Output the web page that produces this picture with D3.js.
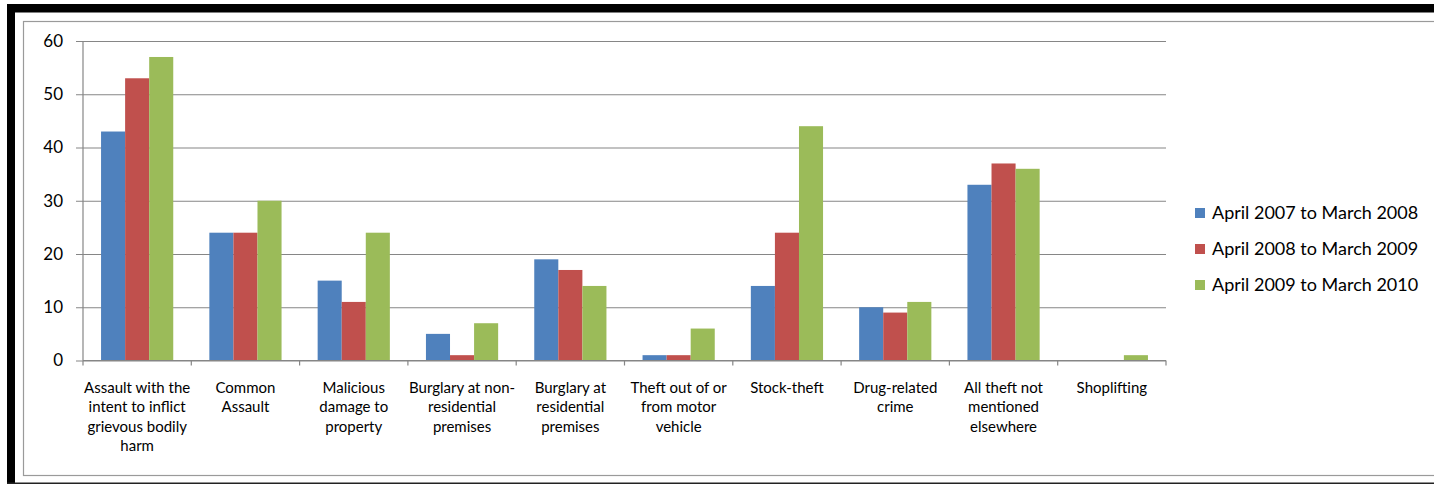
<!DOCTYPE html>
<html>
<head>
<meta charset="utf-8">
<script src="https://cdn.jsdelivr.net/npm/d3@7"></script>
<style>
  html, body { margin: 0; padding: 0; background: #fff; }
  svg { display: block; }
  text { font-family: Lato, "Liberation Sans", sans-serif; fill: #000; }
</style>
</head>
<body>
<svg id="chart" width="1434" height="485"></svg>
<script>
// Recorded crimes per category, three reporting years
const categories = [
  ["Assault with the", "intent to inflict", "grievous bodily", "harm"],
  ["Common", "Assault"],
  ["Malicious", "damage to", "property"],
  ["Burglary at non-", "residential", "premises"],
  ["Burglary at", "residential", "premises"],
  ["Theft out of or", "from motor", "vehicle"],
  ["Stock-theft"],
  ["Drug-related", "crime"],
  ["All theft not", "mentioned", "elsewhere"],
  ["Shoplifting"]
];
const seriesNames = [
  "April 2007 to March 2008",
  "April 2008 to March 2009",
  "April 2009 to March 2010"
];
const values2007 = [43, 24, 15, 5, 19, 1, 14, 10, 33, 0];
const values2008 = [53, 24, 11, 1, 17, 1, 24, 9, 37, 0];
const values2009 = [57, 30, 24, 7, 14, 6, 44, 11, 36, 1];
const yTicks = [0, 10, 20, 30, 40, 50, 60];
const colors = ["#4F81BD", "#C0504D", "#9BBB59"];

const allSeries = [values2007, values2008, values2009];
const svg = d3.select("#chart");

// Frame: heavy black border and thin grey inner border
svg.append("rect").attr("x", 0).attr("y", 0).attr("width", 1434).attr("height", 485).attr("fill", "#fff");
svg.append("rect").attr("x", 7).attr("y", 4).attr("width", 1440).attr("height", 8.5).attr("fill", "#000");
svg.append("rect").attr("x", 7).attr("y", 4).attr("width", 8).attr("height", 480).attr("fill", "#000");
svg.append("rect").attr("x", 7).attr("y", 482.5).attr("width", 1440).attr("height", 1.5).attr("fill", "#222");
svg.append("rect").attr("x", 23.5).attr("y", 21.5).attr("width", 1440).attr("height", 454)
  .attr("fill", "none").attr("stroke", "#9a9a9a").attr("stroke-width", 1.2);

const plot = { left: 83, right: 1166, top: 41, bottom: 360.5 };

const x = d3.scaleBand()
  .domain(d3.range(categories.length))
  .range([plot.left, plot.right])
  .paddingInner(0).paddingOuter(0);

const barW = x.bandwidth() / 4.5;
const xs = d3.scaleBand()
  .domain(d3.range(seriesNames.length))
  .range([barW * 0.75, x.bandwidth() - barW * 0.75]);

const y = d3.scaleLinear().domain([0, 60]).range([plot.bottom, plot.top]);

// Horizontal gridlines with left ticks
const yAxis = d3.axisLeft(y).tickValues(yTicks).tickSize(-(plot.right - plot.left)).tickSizeOuter(0).tickPadding(20).tickFormat(d3.format("d"));
const gy = svg.append("g").attr("transform", `translate(${plot.left},0)`).call(yAxis);
gy.select(".domain").remove();
gy.selectAll(".tick line").attr("stroke", "#868686").attr("stroke-width", 1.2).attr("x1", -7);
gy.selectAll(".tick text").attr("font-size", 17).attr("font-family", "Lato, 'Liberation Sans', sans-serif").attr("fill", "#000");

// Vertical axis line
svg.append("line").attr("x1", plot.left).attr("x2", plot.left).attr("y1", plot.top).attr("y2", plot.bottom)
  .attr("stroke", "#868686").attr("stroke-width", 1.2);

// Bars
allSeries.forEach((vals, s) => {
  svg.append("g").selectAll("rect").data(vals).join("rect")
    .attr("x", (d, i) => x(i) + xs(s))
    .attr("width", xs.bandwidth())
    .attr("y", d => y(d))
    .attr("height", d => plot.bottom - y(d))
    .attr("fill", colors[s]);
});

// Category axis with boundary ticks
const gx = svg.append("g").attr("transform", `translate(0,${plot.bottom})`);
gx.append("line").attr("x1", plot.left).attr("x2", plot.right).attr("stroke", "#868686").attr("stroke-width", 1.2);
gx.selectAll("line.tk").data(d3.range(categories.length + 1)).join("line")
  .attr("class", "tk")
  .attr("x1", i => i < categories.length ? x(i) : plot.right)
  .attr("x2", i => i < categories.length ? x(i) : plot.right)
  .attr("y1", 0).attr("y2", 5)
  .attr("stroke", "#868686").attr("stroke-width", 1.2);

const labels = svg.append("g").selectAll("text").data(categories).join("text")
  .attr("text-anchor", "middle")
  .attr("font-size", 15)
  .attr("transform", (d, i) => `translate(${x(i) + x.bandwidth() / 2},393)`);
labels.selectAll("tspan").data(d => d).join("tspan")
  .attr("x", 0)
  .attr("dy", (d, j) => j === 0 ? 0 : 19.3)
  .text(d => d);

// Legend
const legend = svg.append("g");
seriesNames.forEach((name, s) => {
  const cy = 213 + s * 36;
  legend.append("rect").attr("x", 1195).attr("y", cy - 5).attr("width", 10).attr("height", 10).attr("fill", colors[s]);
  legend.append("text").attr("x", 1212).attr("y", cy).attr("dy", "0.36em").attr("font-size", 18).text(name);
});
</script>
</body>
</html>
